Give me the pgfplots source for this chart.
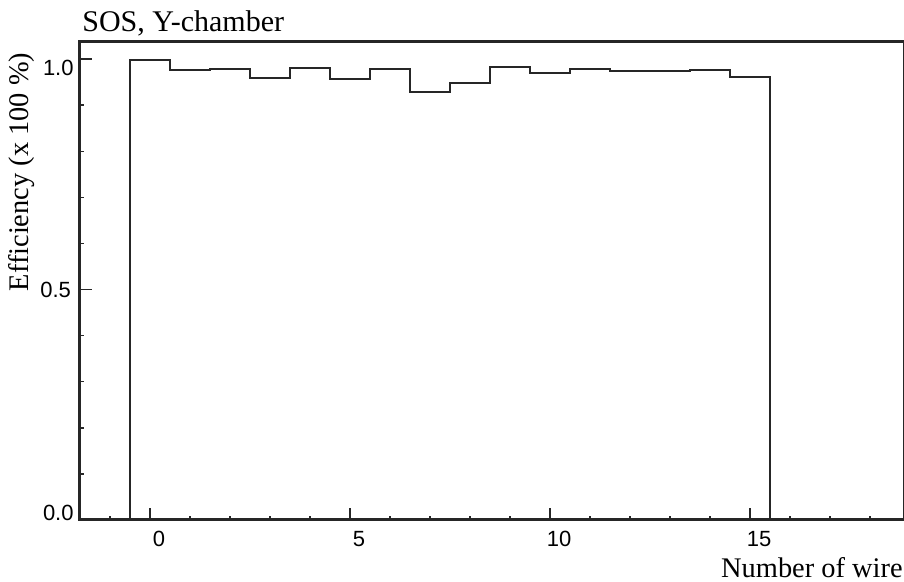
\documentclass[border=0pt]{standalone}
\usepackage{pgfplots}
\pgfplotsset{compat=1.18}
\usepackage{fontspec}
\setmainfont{Liberation Serif}
\newfontfamily\helv{Liberation Sans}
\begin{document}
\begin{tikzpicture}
\begin{axis}[
  scale only axis,
  width=412pt, height=239pt,
  xmin=-1.75, xmax=18.85,
  ymin=0, ymax=1.037,
  axis line style={line width=0.75pt, black!85},
  tick align=inside,
  xtick pos=bottom, ytick pos=left,
  xtick={0,5,10,15},
  xticklabels={0,5,10,15},
  minor xtick={-1,1,2,3,4,6,7,8,9,11,12,13,14,16,17,18},
  ytick={0,0.5,1},
  yticklabels={,0.5,},
  minor ytick={0.1,0.2,0.3,0.4,0.6,0.7,0.8,0.9},
  major tick length=6pt,
  minor tick length=2.2pt,
  every tick/.style={black!85, line width=0.7pt},
  /pgf/number format/assume math mode=true,
  xticklabel style={font=\helv\fontsize{11}{13}\selectfont, xshift=4.5pt, yshift=-2pt},
  yticklabel style={font=\helv\fontsize{11}{13}\selectfont, xshift=-1pt},
  xlabel={Number of wire},
  xlabel style={font=\fontsize{14.2}{16}\selectfont, at={(rel axis cs:1,0)}, anchor=base east, inner sep=0pt, yshift=-29pt, xshift=-0.5pt},
  ylabel={Efficiency (x 100 \%)},
  ylabel style={font=\fontsize{14.2}{16}\selectfont, at={(rel axis cs:0,0.728)}, anchor=center, inner sep=0pt, yshift=29pt},
  clip=false,
]
\addplot[const plot, line width=1pt, black!85] coordinates {
  (-0.5,0) (-0.5,0.998) (0.5,0.976) (1.5,0.978) (2.5,0.959) (3.5,0.981)
  (4.5,0.957) (5.5,0.979) (6.5,0.928) (7.5,0.947) (8.5,0.982) (9.5,0.969)
  (10.5,0.978) (11.5,0.973) (12.5,0.975) (13.5,0.976) (14.5,0.962)
  (15.5,0) (18.85,0)
};
\draw[line width=1.5pt, black!85] (rel axis cs:1,1) -- (rel axis cs:0,1) -- (rel axis cs:0,0) -- (rel axis cs:1,0);
\node[anchor=east, font=\helv\fontsize{11}{13}\selectfont, inner sep=0pt] at ([xshift=-3pt]axis cs:-1.75,0.98) {1.0};
\node[anchor=east, font=\helv\fontsize{11}{13}\selectfont, inner sep=0pt] at ([xshift=-3pt]axis cs:-1.75,0.015) {0.0};
\node[anchor=base west, font=\fontsize{15}{17}\selectfont, inner sep=0pt] at ([yshift=5pt, xshift=1pt]rel axis cs:0,1) {SOS, Y-chamber};
\coordinate (bl) at (rel axis cs:0,0);
\end{axis}
\pgfresetboundingbox
\path[use as bounding box] (bl) ++(-40pt,-31pt) rectangle ++(452pt,291pt);
\end{tikzpicture}
\end{document}
